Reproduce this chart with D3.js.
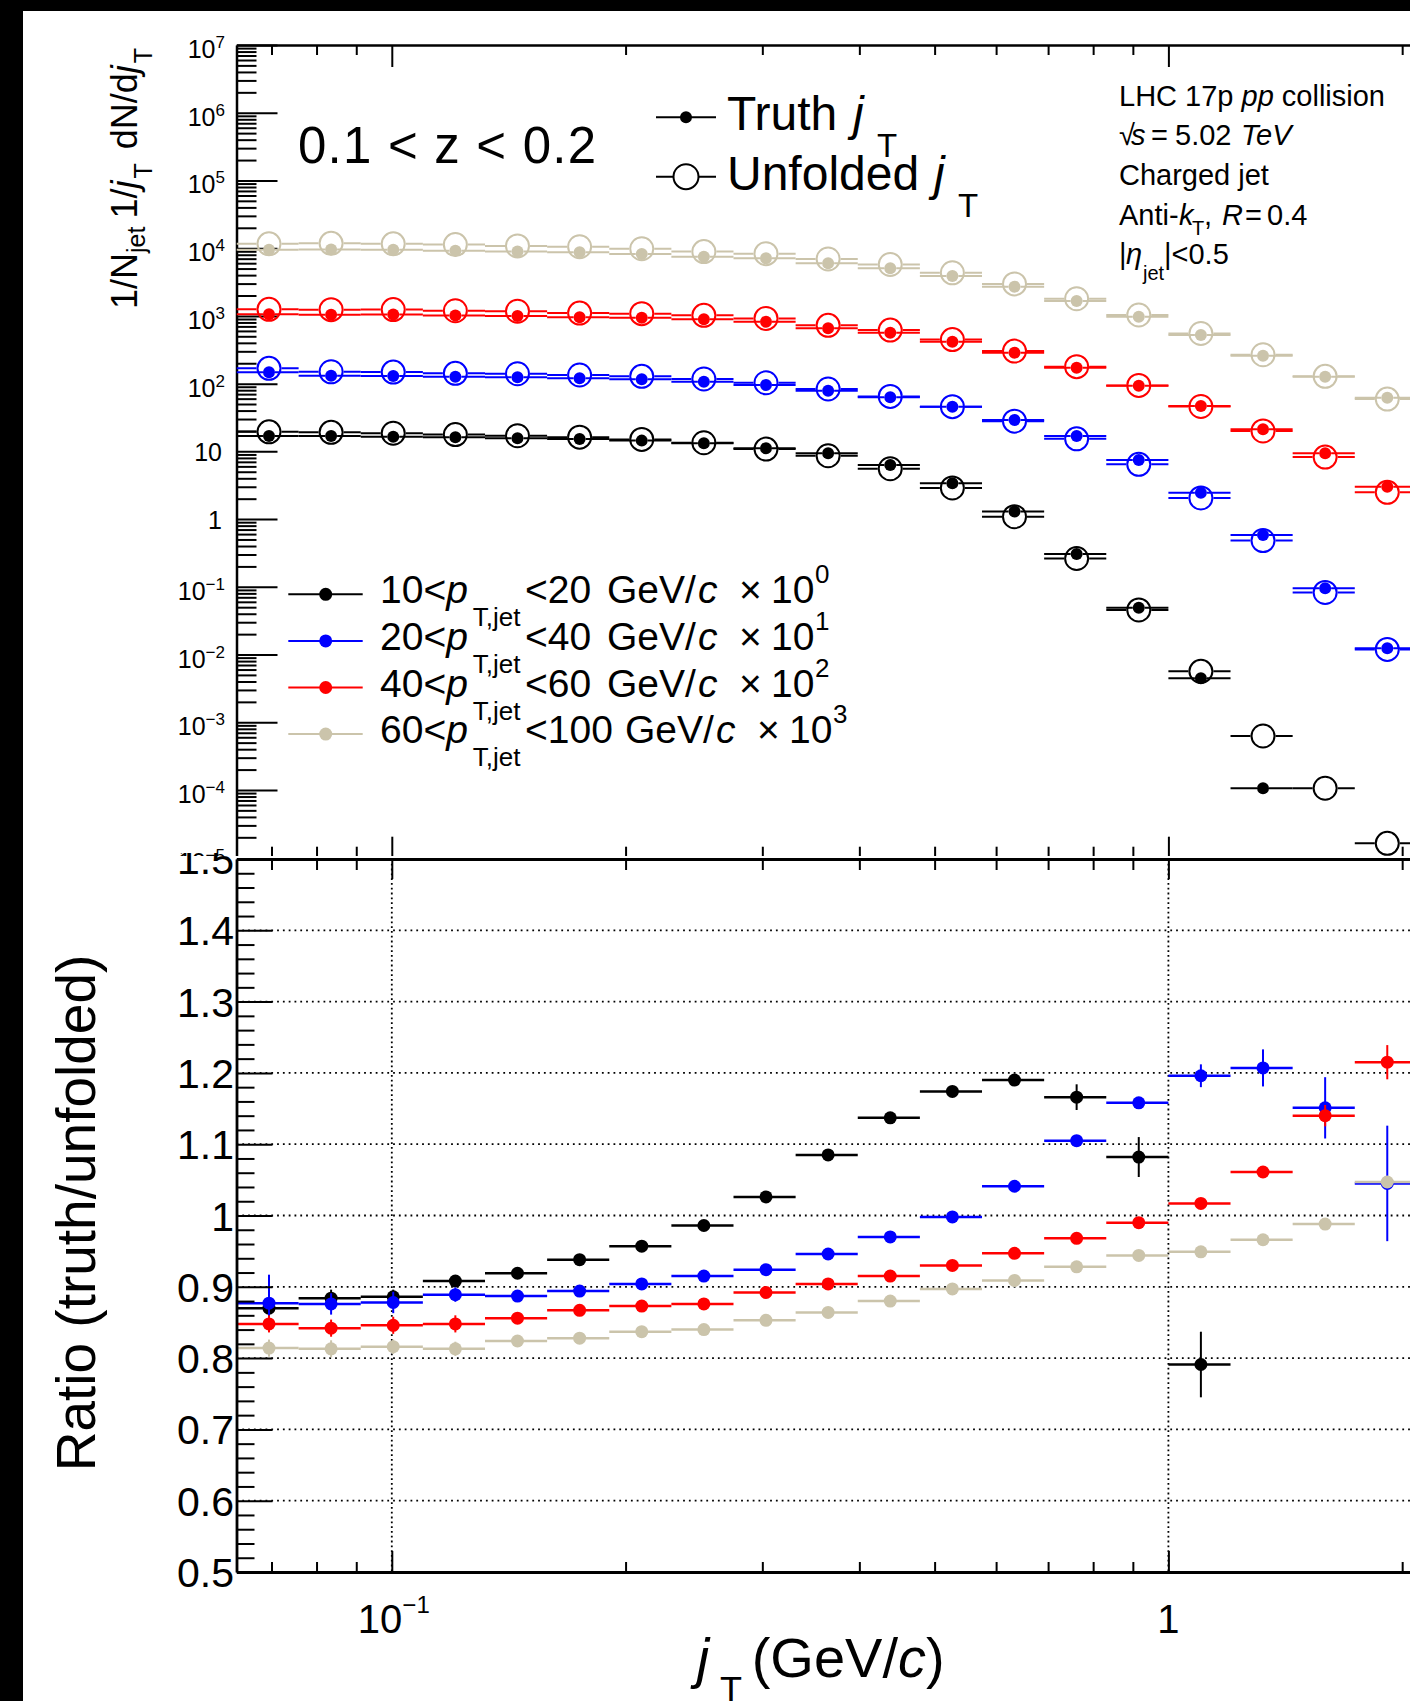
<!DOCTYPE html>
<html>
<head>
<meta charset="utf-8">
<script src="https://cdn.jsdelivr.net/npm/d3@7"></script>
<style>
  html, body { margin: 0; padding: 0; background: #000; }
  svg { display: block; }
  text { font-family: "Liberation Sans", Arial, Helvetica, sans-serif; fill: #000; }
</style>
</head>
<body>
<svg id="chart" width="1410" height="1701"></svg>
<script>
// ---- jT binning (GeV/c), logarithmic bins ----
const jtBinEdges = [0.06310, 0.07586, 0.09120, 0.10965, 0.13183, 0.15849, 0.19055,
  0.22909, 0.27542, 0.33113, 0.39811, 0.47863, 0.57544, 0.69183, 0.83176,
  1.00000, 1.20226, 1.44544, 1.73780, 2.08930];
const jtAxisRange = [0.0631, 2.512];

// ---- jet pT bins ----
const ptLow = [10, 20, 40, 60];
const ptHigh = [20, 40, 60, 100];
const scaleExponent = [0, 1, 2, 3];
const seriesColors = ["#000000", "#0000ff", "#ff0000", "#cbc4ab"];

// ---- 1/N_jet 1/jT dN/djT, truth level (before pT-bin scaling) ----
const truth_10_20  = [16.9, 16.9, 16.4, 16.1, 15.6, 15.2, 14.4, 13.2, 11.1, 9.35, 6.30, 3.38, 1.29, 0.305, 0.0492, 0.00447, 0.000106, null, null];
const truth_20_40  = [14.7, 13.1, 13.0, 12.6, 12.4, 12.0, 11.6, 10.7, 9.55, 7.87, 6.28, 4.56, 2.90, 1.69, 0.745, 0.245, 0.0582, 0.0095, 0.00124];
const truth_40_60  = [10.6, 10.4, 10.5, 10.1, 10.0, 9.55, 9.40, 8.91, 8.20, 6.56, 5.65, 4.16, 2.86, 1.72, 0.933, 0.468, 0.212, 0.0938, 0.0301];
const truth_60_100 = [9.45, 9.60, 9.45, 9.20, 8.90, 8.70, 8.20, 7.48, 7.08, 5.98, 5.05, 3.88, 2.70, 1.66, 0.973, 0.522, 0.258, 0.126, 0.0619];

// ---- unfolded distributions (before pT-bin scaling) ----
const unfolded_10_20  = [19.4, 19.1, 18.5, 17.7, 17.0, 16.2, 15.0, 13.4, 10.8, 8.62, 5.54, 2.88, 1.084, 0.262, 0.0455, 0.00565, 0.000627, 0.000106, 0.0000163];
const unfolded_20_40  = [16.8, 14.95, 14.8, 14.2, 14.0, 13.4, 12.8, 11.7, 10.3, 8.32, 6.47, 4.57, 2.79, 1.53, 0.643, 0.205, 0.0482, 0.00825, 0.00119];
const unfolded_40_60  = [12.5, 12.35, 12.4, 11.9, 11.7, 11.0, 10.8, 10.2, 9.19, 7.26, 6.17, 4.47, 3.02, 1.78, 0.942, 0.460, 0.200, 0.0823, 0.0248];
const unfolded_60_100 = [11.6, 11.8, 11.6, 11.3, 10.8, 10.5, 9.80, 8.90, 8.30, 6.92, 5.74, 4.33, 2.97, 1.79, 1.03, 0.550, 0.267, 0.128, 0.0591];

// ---- truth/unfolded ratio and its uncertainty ----
const ratio_10_20  = [0.870, 0.884, 0.886, 0.908, 0.919, 0.938, 0.957, 0.986, 1.026, 1.085, 1.137, 1.174, 1.190, 1.166, 1.082, 0.791, 0.169, null, null];
const ratio_20_40  = [0.877, 0.876, 0.878, 0.889, 0.887, 0.894, 0.904, 0.915, 0.924, 0.946, 0.970, 0.998, 1.041, 1.105, 1.158, 1.196, 1.207, 1.151, 1.045];
const ratio_40_60  = [0.848, 0.842, 0.846, 0.848, 0.856, 0.867, 0.873, 0.876, 0.892, 0.904, 0.915, 0.930, 0.947, 0.968, 0.990, 1.017, 1.061, 1.140, 1.215];
const ratio_60_100 = [0.814, 0.813, 0.816, 0.813, 0.824, 0.828, 0.837, 0.840, 0.853, 0.864, 0.880, 0.897, 0.909, 0.928, 0.944, 0.949, 0.966, 0.988, 1.047];

const ratioErr_10_20  = [0.017, 0.012, 0.010, 0.008, 0.007, 0.005, 0.004, 0.004, 0.004, 0.005, 0.005, 0.006, 0.008, 0.018, 0.028, 0.046, 0.05, null, null];
const ratioErr_20_40  = [0.040, 0.015, 0.015, 0.010, 0.008, 0.006, 0.004, 0.004, 0.004, 0.004, 0.004, 0.004, 0.005, 0.005, 0.006, 0.016, 0.026, 0.043, 0.081];
const ratioErr_40_60  = [0.012, 0.012, 0.012, 0.012, 0.008, 0.005, 0.005, 0.005, 0.005, 0.005, 0.005, 0.005, 0.005, 0.005, 0.005, 0.006, 0.007, 0.015, 0.024];
const ratioErr_60_100 = [0.012, 0.012, 0.010, 0.010, 0.008, 0.004, 0.004, 0.004, 0.004, 0.004, 0.004, 0.004, 0.004, 0.004, 0.004, 0.004, 0.004, 0.005, 0.006];

// ---- axis tick values ----
const xMajorTicks = [0.1, 1];
const xMinorTicks = [0.07, 0.08, 0.09, 0.2, 0.3, 0.4, 0.5, 0.6, 0.7, 0.8, 0.9, 2];
const yUpperDecades = [-5, -4, -3, -2, -1, 0, 1, 2, 3, 4, 5, 6, 7];
const yRatioMajor = [0.5, 0.6, 0.7, 0.8, 0.9, 1.0, 1.1, 1.2, 1.3, 1.4, 1.5];
const yRatioGrid = [0.6, 0.7, 0.8, 0.9, 1.0, 1.1, 1.2, 1.3, 1.4];

const series = [
  { truth: truth_10_20,  unfolded: unfolded_10_20,  ratio: ratio_10_20,  err: ratioErr_10_20 },
  { truth: truth_20_40,  unfolded: unfolded_20_40,  ratio: ratio_20_40,  err: ratioErr_20_40 },
  { truth: truth_40_60,  unfolded: unfolded_40_60,  ratio: ratio_40_60,  err: ratioErr_40_60 },
  { truth: truth_60_100, unfolded: unfolded_60_100, ratio: ratio_60_100, err: ratioErr_60_100 }
].map((s, i) => ({ ...s, color: seriesColors[i], factor: Math.pow(10, scaleExponent[i]) }));

// ---------------------------------------------------------------
const W = 1410, H = 1701;
const svg = d3.select("#chart");

svg.append("rect").attr("width", W).attr("height", H).attr("fill", "#000");
svg.append("rect").attr("x", 23).attr("y", 11).attr("width", W - 23).attr("height", H - 11).attr("fill", "#fff");

const frameLeft = 236.5, decadePx = 776.6;
const upTop = 45, upBottom = 857.7;
const ratTop = 859, ratBottom = 1572;

const x = d3.scaleLog().domain(jtAxisRange)
  .range([frameLeft, frameLeft + decadePx * Math.log10(jtAxisRange[1] / jtAxisRange[0])]);
const yUp = d3.scaleLog().domain([1e-5, 1e7]).range([upBottom, upTop]);
const yRat = d3.scaleLinear().domain([0.5, 1.5]).range([ratBottom, ratTop]);

const binCenter = k => (jtBinEdges[k] + jtBinEdges[k + 1]) / 2;

const defs = svg.append("defs");
defs.append("clipPath").attr("id", "clipUpper").append("rect")
  .attr("x", frameLeft).attr("y", upTop).attr("width", W).attr("height", upBottom - upTop);
defs.append("clipPath").attr("id", "clipRatio").append("rect")
  .attr("x", frameLeft).attr("y", ratTop).attr("width", W).attr("height", ratBottom - ratTop);
defs.append("clipPath").attr("id", "clipRatioPad").append("rect")
  .attr("x", 0).attr("y", 853).attr("width", W).attr("height", H - 853);

function styleAxis(g, keepDomain) {
  g.selectAll(".tick line").attr("stroke", "#000").attr("stroke-width", 2);
  g.selectAll(".tick text").remove();
  if (keepDomain) g.select(".domain").attr("stroke", "#000").attr("stroke-width", 2.5);
  else g.select(".domain").remove();
}
const expText = e => (e < 0 ? "\u2212" + Math.abs(e) : String(e));

// ================= upper pad =================
const upper = svg.append("g");

// y axis (log): decades + minor ticks
upper.append("g").attr("transform", `translate(${frameLeft},0)`)
  .call(d3.axisLeft(yUp).tickValues(yUpperDecades.map(e => Math.pow(10, e))).tickSize(-41).tickSizeOuter(0))
  .call(g => styleAxis(g, true));
const yMinor = [];
yUpperDecades.slice(0, -1).forEach(e => { for (let m = 2; m <= 9; m++) yMinor.push(m * Math.pow(10, e)); });
upper.append("g").attr("transform", `translate(${frameLeft},0)`)
  .call(d3.axisLeft(yUp).tickValues(yMinor).tickSize(-20).tickSizeOuter(0))
  .call(g => styleAxis(g, false));

// x ticks along top and bottom of the upper frame
upper.append("g").attr("transform", `translate(0,${upTop})`)
  .call(d3.axisBottom(x).tickValues(xMajorTicks).tickSize(22).tickSizeOuter(0))
  .call(g => styleAxis(g, true));
upper.append("g").attr("transform", `translate(0,${upTop})`)
  .call(d3.axisBottom(x).tickValues(xMinorTicks).tickSize(10).tickSizeOuter(0))
  .call(g => styleAxis(g, false));
upper.append("g").attr("transform", `translate(0,${upBottom})`)
  .call(d3.axisTop(x).tickValues(xMajorTicks).tickSize(21).tickSizeOuter(0))
  .call(g => styleAxis(g, true));
upper.append("g").attr("transform", `translate(0,${upBottom})`)
  .call(d3.axisTop(x).tickValues(xMinorTicks).tickSize(11).tickSizeOuter(0))
  .call(g => styleAxis(g, false));

// y tick labels
const upLabels = upper.append("g");
yUpperDecades.forEach(e => {
  const ty = yUp(Math.pow(10, e));
  if (e === 0 || e === 1) {
    upLabels.append("text").attr("x", 222).attr("y", ty + 9.5).attr("text-anchor", "end")
      .attr("font-size", 25).text(e === 0 ? "1" : "10");
  } else {
    const t = upLabels.append("text").attr("x", 225).attr("y", ty + 13).attr("text-anchor", "end")
      .attr("font-size", 25);
    t.append("tspan").text("10");
    t.append("tspan").attr("font-size", 17).attr("dy", -10).text(expText(e));
  }
});

// data points
const rTruth = 6, rUnf = 12.5;
const upperData = upper.append("g").attr("clip-path", "url(#clipUpper)");
series.forEach(s => {
  const g = upperData.append("g");
  const mk = (vals) => vals.map((v, k) => v == null ? null : ({
    lo: x(jtBinEdges[k]), hi: x(jtBinEdges[k + 1]), cx: x(binCenter(k)), cy: yUp(v * s.factor)
  })).filter(d => d);
  const unf = mk(s.unfolded), tru = mk(s.truth);

  g.selectAll("path.unf").data(unf).join("path").attr("class", "unf")
    .attr("d", d => `M${d.lo},${d.cy}H${d.cx - rUnf}M${d.cx + rUnf},${d.cy}H${d.hi}`)
    .attr("stroke", s.color).attr("stroke-width", 2).attr("fill", "none");
  g.selectAll("path.tru").data(tru).join("path").attr("class", "tru")
    .attr("d", d => `M${d.lo},${d.cy}H${d.cx - rTruth}M${d.cx + rTruth},${d.cy}H${d.hi}`)
    .attr("stroke", s.color).attr("stroke-width", 2).attr("fill", "none");
  g.selectAll("circle.unf").data(unf).join("circle").attr("class", "unf")
    .attr("cx", d => d.cx).attr("cy", d => d.cy).attr("r", rUnf - 1)
    .attr("fill", "none").attr("stroke", s.color).attr("stroke-width", 2);
  g.selectAll("circle.tru").data(tru).join("circle").attr("class", "tru")
    .attr("cx", d => d.cx).attr("cy", d => d.cy).attr("r", rTruth).attr("fill", s.color);
});

// z-bin label
upper.append("text").attr("x", 298).attr("y", 163).attr("font-size", 51)
  .attr("textLength", 298).attr("lengthAdjust", "spacing").text("0.1 < z < 0.2");

// Truth / Unfolded legend
const lg = upper.append("g");
lg.append("line").attr("x1", 656).attr("x2", 716).attr("y1", 117.3).attr("y2", 117.3)
  .attr("stroke", "#000").attr("stroke-width", 2);
lg.append("circle").attr("cx", 686).attr("cy", 117.3).attr("r", rTruth).attr("fill", "#000");
lg.append("path").attr("d", `M656,176.7H${686 - rUnf}M${686 + rUnf},176.7H716`)
  .attr("stroke", "#000").attr("stroke-width", 2);
lg.append("circle").attr("cx", 686).attr("cy", 176.7).attr("r", rUnf).attr("fill", "none")
  .attr("stroke", "#000").attr("stroke-width", 2);
lg.append("text").attr("x", 727).attr("y", 130).attr("font-size", 48).text("Truth");
lg.append("text").attr("x", 853).attr("y", 130).attr("font-size", 48).attr("font-style", "italic").text("j");
lg.append("text").attr("x", 877).attr("y", 157).attr("font-size", 33).text("T");
lg.append("text").attr("x", 727).attr("y", 190).attr("font-size", 48).text("Unfolded");
lg.append("text").attr("x", 934).attr("y", 190).attr("font-size", 48).attr("font-style", "italic").text("j");
lg.append("text").attr("x", 958).attr("y", 217).attr("font-size", 33).text("T");

// collision system info
const info = upper.append("g");
const infoText = (xp, yp, str, italic, size) =>
  info.append("text").attr("x", xp).attr("y", yp).attr("font-size", size || 29)
    .attr("font-style", italic ? "italic" : null).text(str);
const l1 = info.append("text").attr("x", 1119).attr("y", 106).attr("font-size", 29);
l1.append("tspan").text("LHC 17p ");
l1.append("tspan").attr("font-style", "italic").text("pp");
l1.append("tspan").text(" collision");
infoText(1119, 145, "\u221A");
infoText(1131, 145, "s", true);
infoText(1151, 145, "=");
infoText(1175, 145, "5.02");
infoText(1241, 145, "TeV", true);
infoText(1119, 185, "Charged jet");
infoText(1119, 225, "Anti-");
infoText(1179, 225, "k", true);
infoText(1192, 235, "T", false, 20);
infoText(1204, 225, ",");
infoText(1222, 225, "R", true);
infoText(1245, 225, "=");
infoText(1267, 225, "0.4");
infoText(1119, 264.3, "|");
infoText(1126, 264.3, "\u03B7", true);
infoText(1143, 280, "jet", false, 20);
infoText(1164, 264.3, "|<0.5");

// pT-bin legend
const pl = upper.append("g");
ptLow.forEach((lo, i) => {
  const ym = 594.3 + 46.6 * i, base = ym + 9;
  const d = (String(ptHigh[i]).length - 2) * 18;
  pl.append("line").attr("x1", 288.3).attr("x2", 362.7).attr("y1", ym).attr("y2", ym)
    .attr("stroke", seriesColors[i]).attr("stroke-width", 2);
  pl.append("circle").attr("cx", 325.7).attr("cy", ym).attr("r", 6.5).attr("fill", seriesColors[i]);
  const t = pl.append("text").attr("x", 380).attr("y", base).attr("font-size", 39);
  t.append("tspan").text(lo + "<");
  t.append("tspan").attr("font-style", "italic").text("p");
  pl.append("text").attr("x", 472.7).attr("y", base + 23).attr("font-size", 26).text("T,jet");
  pl.append("text").attr("x", 525).attr("y", base).attr("font-size", 39).text("<" + ptHigh[i]);
  pl.append("text").attr("x", 607 + d).attr("y", base).attr("font-size", 39).text("GeV/");
  pl.append("text").attr("x", 698 + d).attr("y", base).attr("font-size", 39).attr("font-style", "italic").text("c");
  pl.append("text").attr("x", 739 + d).attr("y", base).attr("font-size", 39).text("\u00D7");
  pl.append("text").attr("x", 771 + d).attr("y", base).attr("font-size", 39).text("10");
  pl.append("text").attr("x", 815 + d).attr("y", base - 20).attr("font-size", 26).text(scaleExponent[i]);
});

// y-axis title
const yt = upper.append("text").attr("transform", "translate(137,309) rotate(-90)").attr("font-size", 36);
yt.append("tspan").text("1/N");
yt.append("tspan").attr("font-size", 25).attr("dy", 8).text("jet");
yt.append("tspan").attr("dy", -8).attr("dx", 8).text("1/");
yt.append("tspan").attr("font-style", "italic").text("j");
yt.append("tspan").attr("font-size", 25).attr("dy", 15).attr("dx", 2).text("T");
yt.append("tspan").attr("dy", -15).attr("dx", 14).text("dN/d");
yt.append("tspan").attr("font-style", "italic").text("j");
yt.append("tspan").attr("font-size", 25).attr("dy", 15).attr("dx", 2).text("T");

// ================= ratio pad =================
const ratio = svg.append("g");
ratio.append("rect").attr("x", 23).attr("y", 856).attr("width", W - 23).attr("height", H - 856).attr("fill", "#fff");

// dotted grid
const grid = ratio.append("g").attr("clip-path", "url(#clipRatio)");
grid.selectAll("line.h").data(yRatioGrid).join("line").attr("class", "h")
  .attr("x1", frameLeft).attr("x2", W).attr("y1", d => yRat(d)).attr("y2", d => yRat(d))
  .attr("stroke", "#000").attr("stroke-width", 1.8).attr("stroke-dasharray", "1.8,4");
grid.selectAll("line.v").data(xMajorTicks).join("line").attr("class", "v")
  .attr("x1", d => x(d)).attr("x2", d => x(d)).attr("y1", ratTop).attr("y2", ratBottom)
  .attr("stroke", "#000").attr("stroke-width", 1.8).attr("stroke-dasharray", "1.8,3");

// ratio points
const ratioData = ratio.append("g").attr("clip-path", "url(#clipRatio)");
series.forEach(s => {
  const g = ratioData.append("g");
  const pts = s.ratio.map((v, k) => v == null ? null : ({
    lo: x(jtBinEdges[k]), hi: x(jtBinEdges[k + 1]), cx: x(binCenter(k)),
    cy: yRat(v), ey1: yRat(v - s.err[k]), ey2: yRat(v + s.err[k])
  })).filter(d => d);
  g.selectAll("line.h").data(pts).join("line").attr("class", "h")
    .attr("x1", d => d.lo).attr("x2", d => d.hi).attr("y1", d => d.cy).attr("y2", d => d.cy)
    .attr("stroke", s.color).attr("stroke-width", 2.5);
  g.selectAll("line.v").data(pts).join("line").attr("class", "v")
    .attr("x1", d => d.cx).attr("x2", d => d.cx).attr("y1", d => d.ey1).attr("y2", d => d.ey2)
    .attr("stroke", s.color).attr("stroke-width", 2);
  g.selectAll("circle").data(pts).join("circle")
    .attr("cx", d => d.cx).attr("cy", d => d.cy).attr("r", 6.5).attr("fill", s.color);
});

// ratio axes
const yRatMinor = d3.range(0.52, 1.5, 0.02).filter(v => Math.abs(v * 10 - Math.round(v * 10)) > 1e-6);
ratio.append("g").attr("transform", `translate(${frameLeft},0)`)
  .call(d3.axisLeft(yRat).tickValues(yRatioMajor).tickSize(-36).tickSizeOuter(0))
  .call(g => styleAxis(g, true));
ratio.append("g").attr("transform", `translate(${frameLeft},0)`)
  .call(d3.axisLeft(yRat).tickValues(yRatMinor).tickSize(-18).tickSizeOuter(0))
  .call(g => styleAxis(g, false));
ratio.append("g").attr("transform", `translate(0,${ratTop})`)
  .call(d3.axisBottom(x).tickValues(xMajorTicks).tickSize(20).tickSizeOuter(0))
  .call(g => styleAxis(g, true));
ratio.append("g").attr("transform", `translate(0,${ratTop})`)
  .call(d3.axisBottom(x).tickValues(xMinorTicks).tickSize(11).tickSizeOuter(0))
  .call(g => styleAxis(g, false));
ratio.append("g").attr("transform", `translate(0,${ratBottom})`)
  .call(d3.axisTop(x).tickValues(xMajorTicks).tickSize(21).tickSizeOuter(0))
  .call(g => styleAxis(g, true));
ratio.append("g").attr("transform", `translate(0,${ratBottom})`)
  .call(d3.axisTop(x).tickValues(xMinorTicks).tickSize(10).tickSizeOuter(0))
  .call(g => styleAxis(g, false));
ratio.selectAll(".domain").attr("stroke-width", 2.8);

// ratio y labels
ratio.append("g").attr("clip-path", "url(#clipRatioPad)")
  .selectAll("text").data(yRatioMajor).join("text")
  .attr("x", 234).attr("y", d => yRat(d) + 15).attr("text-anchor", "end").attr("font-size", 41)
  .text(d => String(+d.toFixed(1)));

// ratio x labels
const xl = ratio.append("g");
xMajorTicks.forEach(v => {
  const e = Math.round(Math.log10(v));
  if (e === 0) {
    xl.append("text").attr("x", x(v)).attr("y", 1633).attr("text-anchor", "middle").attr("font-size", 40).text("1");
  } else {
    const t = xl.append("text").attr("x", x(v) + 2).attr("y", 1633).attr("text-anchor", "middle").attr("font-size", 40);
    t.append("tspan").text("10");
    t.append("tspan").attr("font-size", 24).attr("dy", -20).text(expText(e));
  }
});

// axis titles
ratio.append("text").attr("transform", "translate(95,1213) rotate(-90)").attr("text-anchor", "middle")
  .attr("font-size", 55).text("Ratio (truth/unfolded)");
ratio.append("text").attr("x", 696.7).attr("y", 1676.7).attr("font-size", 56).attr("font-style", "italic").text("j");
ratio.append("text").attr("x", 720).attr("y", 1702.5).attr("font-size", 36).text("T");
const xt = ratio.append("text").attr("x", 751.7).attr("y", 1676.7).attr("font-size", 56);
xt.append("tspan").text("(GeV/");
xt.append("tspan").attr("font-style", "italic").text("c");
xt.append("tspan").text(")");
</script>
</body>
</html>
